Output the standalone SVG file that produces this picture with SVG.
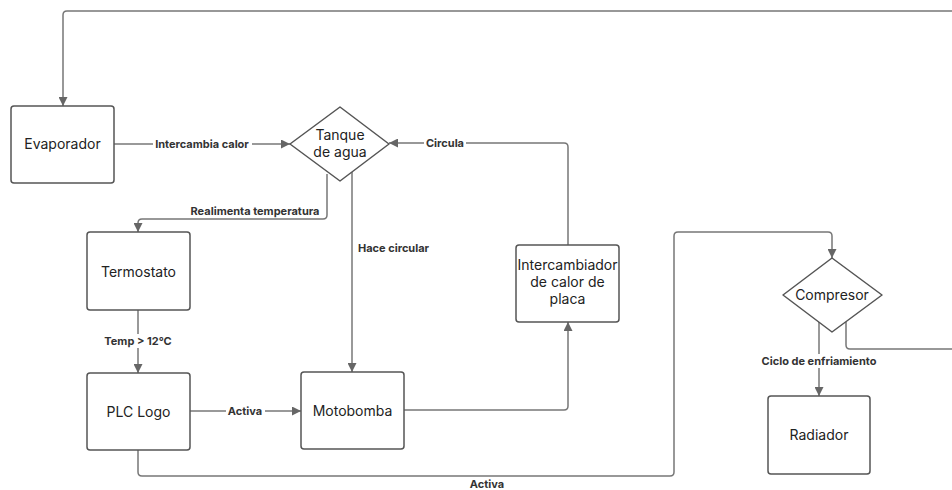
<svg xmlns="http://www.w3.org/2000/svg" width="952" height="490" viewBox="0 0 952 490">
<defs>
<marker id="ah" viewBox="0 0 10 10" refX="10" refY="5" markerWidth="9" markerHeight="9" markerUnits="userSpaceOnUse" orient="auto">
<path d="M0,0 L10,5 L0,10 Z" fill="#666"/>
</marker>
<style>
.n{fill:#fff;stroke:#555;stroke-width:1.5}
.t{font-family:Inter,"Liberation Sans",sans-serif;font-size:14px;fill:#222;text-anchor:middle}
.c{fill:none;stroke:#777;stroke-width:1.5;stroke-linejoin:round}
.a{marker-end:url(#ah)}
.l{font-family:Inter,"Liberation Sans",sans-serif;font-size:11px;font-weight:700;fill:#333;text-anchor:middle}
.bg{fill:#fff}
</style>
</defs>
<rect width="952" height="490" fill="#fff"/>
<g id="connectors">
<path class="c a" d="M952,11 H67 Q63,11 63,15 V106"/>
<path class="c a" d="M114,144 H290"/>
<path class="c a" d="M568,245 V147 Q568,143 564,143 H389"/>
<path class="c a" d="M327,174 V215 Q327,219 323,219 H142 Q138,219 138,223 V232"/>
<path class="c a" d="M352,172 V372"/>
<path class="c a" d="M138,310 V373"/>
<path class="c a" d="M190,411 H301"/>
<path class="c a" d="M404,410 H564 Q568,410 568,406 V322"/>
<path class="c a" d="M138,450 V472 Q138,476 142,476 H670 Q674,476 674,472 V236 Q674,232 678,232 H828 Q832,232 832,236 V258"/>
<path class="c a" d="M819,322 V396"/>
<path class="c" d="M846,322 V345 Q846,349 850,349 H952"/>
<rect class="bg" x="153" y="137" width="99" height="14"/>
<text class="l" x="202" y="148">Intercambia calor</text>
<rect class="bg" x="424" y="136" width="42" height="14"/>
<text class="l" x="445" y="147">Circula</text>
<text class="l" x="255" y="215">Realimenta temperatura</text>
<text class="l" x="358" y="252" style="text-anchor:start">Hace circular</text>
<rect class="bg" x="100" y="334" width="76" height="14"/>
<text class="l" x="138" y="345">Temp &gt; 12°C</text>
<rect class="bg" x="226" y="404" width="39" height="14"/>
<text class="l" x="245" y="415">Activa</text>
<text class="l" x="487" y="488">Activa</text>
<rect class="bg" x="756" y="354" width="126" height="14"/>
<text class="l" x="819" y="365">Ciclo de enfriamiento</text>
</g>
<g id="evaporador">
<rect class="n" x="11" y="106" width="103" height="77" rx="3"/>
<text class="t" x="62.5" y="149">Evaporador</text>
</g>
<g id="tanque">
<path class="n" d="M340,107 L389,144 L340,181 L290,144 Z" stroke-linejoin="round"/>
<text class="t" x="340" y="140">Tanque</text>
<text class="t" x="340" y="157">de agua</text>
</g>
<g id="termostato">
<rect class="n" x="87" y="232" width="103" height="78" rx="3"/>
<text class="t" x="138.5" y="277">Termostato</text>
</g>
<g id="plc">
<rect class="n" x="87" y="373" width="103" height="77" rx="3"/>
<text class="t" x="138.5" y="417">PLC Logo</text>
</g>
<g id="motobomba">
<rect class="n" x="301" y="372" width="103" height="77" rx="3"/>
<text class="t" x="352.5" y="416">Motobomba</text>
</g>
<g id="intercambiador">
<rect class="n" x="516" y="245" width="103" height="77" rx="3"/>
<text class="t" x="567.5" y="270">Intercambiador</text>
<text class="t" x="567.5" y="287">de calor de</text>
<text class="t" x="567.5" y="304">placa</text>
</g>
<g id="compresor">
<path class="n" d="M832,258 L882,295 L832,332 L783,295 Z" stroke-linejoin="round"/>
<text class="t" x="832" y="300">Compresor</text>
</g>
<g id="radiador">
<rect class="n" x="768" y="396" width="102" height="78" rx="3"/>
<text class="t" x="819" y="440">Radiador</text>
</g>
</svg>
